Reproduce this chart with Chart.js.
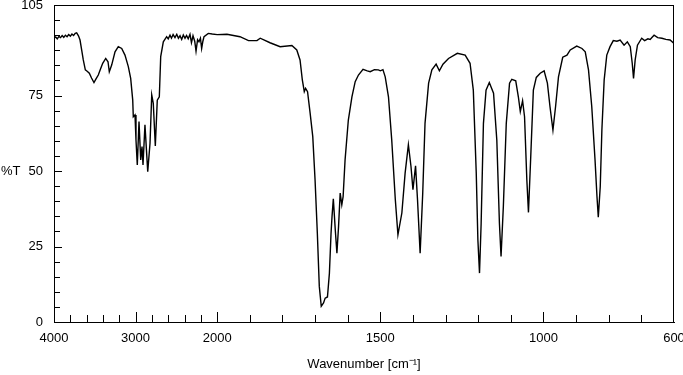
<!DOCTYPE html>
<html>
<head>
<meta charset="utf-8">
<script src="https://cdn.jsdelivr.net/npm/chart.js"></script>
<style>
  html, body { margin: 0; padding: 0; background: #fff; }
  #wrap { width: 683px; height: 375px; position: relative; }
</style>
</head>
<body>
<div id="wrap"><canvas id="ir-chart"></canvas></div>
<script>
// Spectrum data (wavenumber in cm-1, transmittance in %)
const wavenumbers = [
  4000, 3980, 3960, 3940, 3920, 3900, 3880, 3860, 3840, 3820, 3800, 3780, 3760, 3740, 3722,
  3700, 3681, 3660, 3641, 3616, 3590, 3567, 3540, 3510, 3485, 3457, 3430, 3403, 3366, 3338,
  3322, 3293, 3252, 3212, 3170, 3130, 3089, 3060, 3035, 3028, 3007, 2995, 2979, 2958, 2937,
  2921, 2909, 2885, 2851, 2823, 2802, 2783, 2758, 2734, 2709, 2692, 2660, 2619, 2600, 2578,
  2560, 2540, 2517, 2495, 2475, 2455, 2435, 2415, 2394, 2375, 2355, 2333, 2315, 2296, 2275,
  2259, 2240, 2223, 2205, 2190, 2175, 2161, 2109, 2060, 2000, 1970, 1930, 1904, 1878, 1868,
  1838, 1807, 1771, 1756, 1746, 1739, 1733, 1729, 1723, 1715, 1707, 1700, 1693, 1687, 1681,
  1674, 1669, 1662, 1656, 1651, 1648, 1644, 1638, 1633, 1628, 1623, 1618, 1614, 1608, 1598,
  1587, 1577, 1567, 1553, 1540, 1531, 1518, 1506, 1500, 1492, 1485, 1475, 1465, 1454, 1446,
  1434, 1424, 1414, 1406, 1400, 1392, 1386, 1378, 1370, 1363, 1352, 1342, 1329, 1319, 1308,
  1291, 1264, 1240, 1225, 1215, 1206, 1201, 1196, 1191, 1184, 1176, 1166, 1153, 1143, 1135,
  1130, 1123, 1114, 1104, 1097, 1085, 1077, 1071, 1064, 1058, 1051, 1046, 1039, 1031, 1022,
  1010, 998, 988, 980, 971, 963, 954, 941, 928, 918, 898, 882, 872, 862, 852,
  842, 836, 832, 826, 821, 814, 806, 796, 786, 775, 765, 753, 743, 734, 728,
  724, 719, 712, 699, 690, 680, 673, 667, 661, 650, 637, 625, 612, 600
];
const transmittance = [
  94.0, 94.4, 93.8, 94.6, 94.2, 94.9, 94.3, 95.0, 94.5, 95.2, 94.7, 95.4, 94.9, 95.6, 95.8,
  94.8, 93.4, 90.0, 86.8, 83.5, 83.0, 82.4, 80.8, 79.3, 80.5, 81.8, 83.8, 85.7, 87.3, 86.2,
  82.9, 85.1, 89.5, 91.2, 90.6, 88.4, 84.6, 80.7, 73.5, 68.0, 68.6, 60.3, 52.0, 66.4, 53.7,
  58.1, 52.0, 65.3, 49.8, 59.2, 75.2, 72.4, 58.3, 73.5, 74.6, 87.9, 92.8, 94.5, 93.8, 95.0,
  94.0, 95.2, 94.2, 95.3, 94.0, 94.8, 93.6, 95.1, 94.0, 94.9, 93.8, 95.3, 92.5, 94.8, 93.0,
  89.7, 93.5, 92.8, 94.0, 90.6, 93.0, 94.5, 95.6, 95.4, 95.2, 95.3, 94.5, 93.2, 93.2, 94.0,
  92.5, 91.2, 91.6, 90.1, 86.8, 80.2, 76.3, 77.4, 76.3, 69.1, 61.4, 47.1, 29.4, 11.8, 5.2,
  6.3, 7.9, 8.3, 16.2, 29.4, 34.9, 40.8, 30.5, 22.8, 31.6, 42.7, 38.8, 41.5, 53.7, 66.9,
  74.6, 79.6, 81.8, 83.7, 83.2, 82.9, 83.6, 83.5, 83.2, 83.6, 81.2, 74.6, 60.3, 40.5, 28.9,
  36.1, 49.3, 58.7, 51.5, 43.8, 51.7, 40.5, 22.8, 42.7, 65.8, 79.1, 83.5, 85.4, 83.2, 85.4,
  87.3, 89.0, 88.4, 85.7, 76.8, 49.3, 27.2, 16.2, 32.7, 65.8, 76.8, 79.3, 75.8, 60.3, 32.7,
  21.7, 38.2, 65.8, 79.1, 80.4, 79.9, 74.6, 69.7, 73.3, 68.0, 47.1, 36.3, 54.8, 76.8, 81.0,
  82.4, 83.2, 79.1, 71.3, 63.6, 71.3, 81.2, 87.7, 88.4, 90.1, 91.4, 90.6, 89.5, 83.5, 71.3,
  53.7, 41.5, 34.7, 44.9, 63.6, 80.2, 88.4, 91.2, 93.2, 93.0, 93.4, 91.7, 92.8, 91.2, 85.7,
  80.7, 86.8, 91.7, 94.0, 93.2, 93.8, 93.6, 94.3, 95.0, 94.2, 94.0, 93.6, 93.4, 92.3
];

// Axis ticks
const xLabelTicks = [4000, 3000, 2000, 1500, 1000, 600];
const xMajorTicks = [3000, 2000, 1500, 1000];
const xMinorTicks = [3800, 3600, 3400, 3200, 2800, 2600, 2400, 2200,
  1900, 1800, 1700, 1600, 1400, 1300, 1200, 1100, 900, 800, 700];
const yLabelTicks = [0, 25, 50, 75, 105];
const yMajorTicks = [25, 50, 75];
const yMinorTicks = [5, 10, 15, 20, 30, 35, 40, 45, 55, 60, 65, 70, 80, 85, 90, 95, 100];

// The x axis is compressed 4x above 2000 cm-1 (break at 2000)
function toU(w) {
  return w >= 2000 ? 4000 - w : 2000 + (2000 - w) * 4;
}
function fromU(u) {
  return u <= 2000 ? 4000 - u : 2000 - (u - 2000) / 4;
}

const FONT = { family: '"Liberation Sans", Arial, sans-serif', size: 13 };

// Frame, inward tick marks and the horizontal %T label
const framePlugin = {
  id: 'frame',
  afterDraw(chart) {
    const { ctx, chartArea: a } = chart;
    const xs = chart.scales.x;
    const ys = chart.scales.y;
    ctx.save();
    ctx.strokeStyle = '#000';
    ctx.lineWidth = 1;
    ctx.strokeRect(a.left + 0.5, a.top + 0.5, a.right - a.left - 1, a.bottom - a.top);

    const tick = (x1, y1, x2, y2) => {
      ctx.beginPath();
      ctx.moveTo(x1, y1);
      ctx.lineTo(x2, y2);
      ctx.stroke();
    };
    xMinorTicks.forEach(w => {
      const x = Math.round(xs.getPixelForValue(toU(w))) + 0.5;
      tick(x, a.bottom, x, a.bottom - 7);
    });
    xMajorTicks.forEach(w => {
      const x = Math.round(xs.getPixelForValue(toU(w))) + 0.5;
      tick(x, a.bottom, x, a.bottom - 10);
    });
    yMinorTicks.forEach(v => {
      const y = Math.round(ys.getPixelForValue(v)) + 0.5;
      tick(a.left, y, a.left + 6, y);
    });
    yMajorTicks.forEach(v => {
      const y = Math.round(ys.getPixelForValue(v)) + 0.5;
      tick(a.left, y, a.left + 8, y);
    });

    ctx.fillStyle = '#000';
    ctx.font = FONT.size + 'px ' + FONT.family;
    ctx.textAlign = 'left';
    ctx.textBaseline = 'middle';
    ctx.fillText('%T', 1, ys.getPixelForValue(50));
    ctx.restore();
  }
};

const points = wavenumbers.map((w, i) => ({ x: toU(w), y: transmittance[i] }));

new Chart(document.getElementById('ir-chart'), {
  type: 'line',
  data: {
    datasets: [{
      data: points,
      borderColor: '#000',
      borderWidth: 1.4,
      pointRadius: 0,
      tension: 0,
      fill: false
    }]
  },
  options: {
    responsive: true,
    maintainAspectRatio: false,
    animation: false,
    events: [],
    layout: { padding: { left: 0, right: 9, top: 5, bottom: 0 } },
    plugins: {
      legend: { display: false },
      tooltip: { enabled: false }
    },
    scales: {
      x: {
        type: 'linear',
        min: 0,
        max: 7600,
        afterBuildTicks: s => { s.ticks = xLabelTicks.map(w => ({ value: toU(w) })); },
        afterFit: s => { s.paddingLeft = 0; s.paddingRight = 0; s.height = 53; },
        grid: { display: false, drawTicks: false },
        border: { display: true, color: '#000', width: 1 },
        ticks: {
          color: '#000',
          font: FONT,
          padding: 9,
          maxRotation: 0,
          autoSkip: false,
          callback: v => String(Math.round(fromU(v)))
        },
        title: {
          display: true,
          text: 'Wavenumber [cm⁻¹]',
          color: '#000',
          font: FONT,
          padding: { top: 10, bottom: 3 }
        }
      },
      y: {
        min: 0,
        max: 105,
        afterBuildTicks: s => { s.ticks = yLabelTicks.map(v => ({ value: v })); },
        afterFit: s => { s.width = 54; s.paddingTop = 0; s.paddingBottom = 0; },
        grid: { display: false, drawTicks: false },
        border: { display: true, color: '#000', width: 1 },
        ticks: {
          color: '#000',
          font: FONT,
          padding: 11,
          autoSkip: false
        }
      }
    }
  },
  plugins: [framePlugin]
});
</script>
</body>
</html>
